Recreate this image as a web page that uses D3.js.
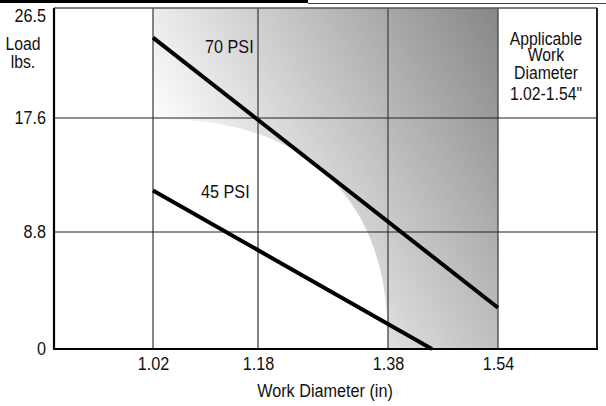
<!DOCTYPE html>
<meta charset="utf-8">
<script src="https://d3js.org/d3.v7.min.js"></script>
<style>
  body { margin: 0; background: #fff; }
  text { font-family: "Liberation Sans", Arial, sans-serif; fill: #111; }
</style>
<div id="chart"></div>
<script>

// data
var xTicks = [1.02, 1.18, 1.38, 1.54];
var yTicks = [0, 8.8, 17.6, 26.5];
var psi70 = [[1.02, 24.1], [1.54, 3.1]];
var psi45 = [[1.02, 12.0], [1.444, 0]];
var seriesNames = ["70 PSI", "45 PSI"];
var workRange = [1.02, 1.54];
var cutout = [1.38, 17.5];   // corner of the white quarter at lower left
var noteLines = ["Applicable", "Work", "Diameter", "1.02-1.54\""];

var W = 606, H = 406;

var svg = d3.select("#chart").append("svg")
    .attr("width", W)
    .attr("height", H);

// the grid is not evenly spaced in the original, so a piecewise scale
var x = d3.scaleLinear()
    .domain([0.87, 1.02, 1.18, 1.38, 1.54, 1.69])
    .range([54, 153, 258, 388, 498, 597]);

var y = d3.scaleLinear()
    .domain([0, 8.8, 17.6, 26.5])
    .range([349, 232, 118, 8]);

// top decoration
svg.append("rect").attr("x", 0).attr("y", 0).attr("width", 308).attr("height", 3).attr("fill", "#000");
svg.append("line").attr("x1", 308).attr("x2", W).attr("y1", 3.5).attr("y2", 3.5)
    .attr("stroke", "#444").attr("stroke-width", 1);

// gradient
var defs = svg.append("defs");
var grad = defs.append("linearGradient")
    .attr("id", "shade")
    .attr("x1", 0.09).attr("y1", 0.51)
    .attr("x2", 1).attr("y2", 0);
grad.append("stop").attr("offset", 0).attr("stop-color", "#ffffff");
grad.append("stop").attr("offset", 1).attr("stop-color", "#878787");

// shaded region minus a rounded white corner
var x0 = x(workRange[0]), x1 = x(workRange[1]);
var yTop = y(26.5), yBot = y(0);
var rx = x(cutout[0]) - x0, ry = yBot - y(cutout[1]);
var n = 2.4;
var curve = d3.range(0, 91, 2).map(function(a) {
  var t = a * Math.PI / 180;
  var c = Math.pow(Math.cos(t), 2 / n), s = Math.pow(Math.sin(t), 2 / n);
  return [x0 + rx * s, yBot - ry * c];
});
var p = "M" + x0 + "," + yTop + "H" + x1 + "V" + yBot + "H" + (x0 + rx);
curve.slice().reverse().forEach(function(pt) { p += "L" + pt[0] + "," + pt[1]; });
p += "V" + yTop + "Z";
svg.append("path").attr("d", p).attr("fill", "url(#shade)");

// grid
svg.append("g").selectAll("line")
  .data(xTicks)
  .join("line")
    .attr("x1", function(d) { return x(d); })
    .attr("x2", function(d) { return x(d); })
    .attr("y1", yTop)
    .attr("y2", yBot)
    .attr("stroke", "#444")
    .attr("stroke-width", 1.3);

svg.append("g").selectAll("line")
  .data(yTicks.slice(1, 3))
  .join("line")
    .attr("x1", x.range()[0])
    .attr("x2", x.range()[5])
    .attr("y1", function(d) { return y(d); })
    .attr("y2", function(d) { return y(d); })
    .attr("stroke", "#222")
    .attr("stroke-width", 1.2);

// frame
svg.append("line").attr("x1", 54).attr("x2", 597).attr("y1", yTop).attr("y2", yTop)
    .attr("stroke", "#555").attr("stroke-width", 1.5);
svg.append("line").attr("x1", 597).attr("x2", 597).attr("y1", yTop).attr("y2", yBot)
    .attr("stroke", "#222").attr("stroke-width", 2);
svg.append("path")
    .attr("d", "M54," + yTop + "V" + yBot + "H598")
    .attr("fill", "none")
    .attr("stroke", "#000")
    .attr("stroke-width", 2.2);

// series
var line = d3.line()
    .x(function(d) { return x(d[0]); })
    .y(function(d) { return y(d[1]); });

svg.selectAll(".series")
  .data([psi70, psi45])
  .join("path")
    .attr("class", "series")
    .attr("d", line)
    .attr("fill", "none")
    .attr("stroke", "#000")
    .attr("stroke-width", 4);

svg.append("text").attr("x", 205).attr("y", 53).attr("font-size", 18).text(seriesNames[0]);
svg.append("text").attr("x", 201).attr("y", 198).attr("font-size", 18).text(seriesNames[1]);

// axes
var xAxis = svg.append("g")
    .attr("transform", "translate(0," + yBot + ")")
    .call(d3.axisBottom(x).tickValues(xTicks).tickSize(0).tickPadding(8).tickFormat(d3.format(".2f")));
xAxis.select(".domain").remove();
xAxis.selectAll("text").attr("font-size", 18).attr("font-family", null);

var yAxis = svg.append("g")
    .attr("transform", "translate(46,0)")
    .call(d3.axisLeft(y).tickValues(yTicks).tickSize(0).tickPadding(0)
      .tickFormat(function(d) { return d; }));
yAxis.select(".domain").remove();
yAxis.selectAll("text").attr("font-size", 18).attr("font-family", null);
yAxis.selectAll(".tick").filter(function(d) { return d === 26.5; })
    .select("text").attr("dy", "0.76em");

svg.append("text").attr("x", 23).attr("y", 50).attr("text-anchor", "middle").attr("font-size", 17.5).text("Load");
svg.append("text").attr("x", 23).attr("y", 68).attr("text-anchor", "middle").attr("font-size", 17.5).text("lbs.");

svg.append("text").attr("x", 325).attr("y", 397).attr("text-anchor", "middle").attr("font-size", 18)
    .text("Work Diameter (in)");

var noteY = [45, 61, 79, 100];
svg.append("g").selectAll("text")
  .data(noteLines)
  .join("text")
    .attr("x", 546)
    .attr("y", function(d, i) { return noteY[i]; })
    .attr("text-anchor", "middle")
    .attr("font-size", 17.5)
    .text(function(d) { return d; });

// the original face is a tall condensed one: squeeze glyphs a little
svg.selectAll("text").each(function() {
  var w = this.getComputedTextLength();
  d3.select(this).attr("textLength", w * 0.9).attr("lengthAdjust", "spacingAndGlyphs");
});

</script>
